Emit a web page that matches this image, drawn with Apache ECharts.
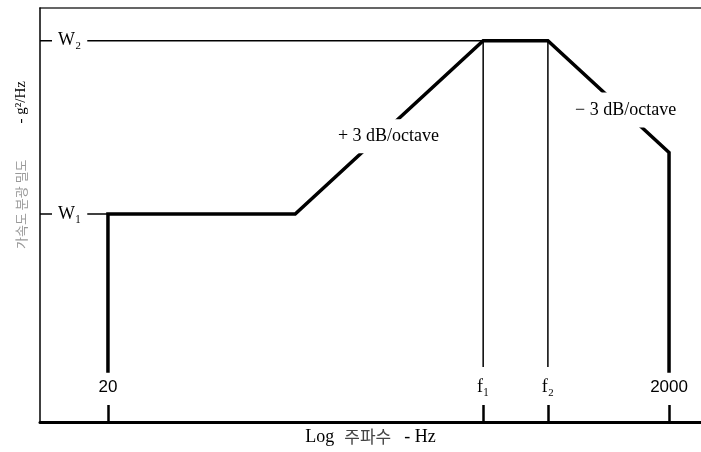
<!DOCTYPE html>
<html><head><meta charset="utf-8">
<script src="https://cdn.jsdelivr.net/npm/echarts@6/dist/echarts.min.js"></script>
<style>html,body{margin:0;padding:0;background:#fff}#c{width:701px;height:452px}</style>
</head><body><div id="c"></div>
<script>
// x: frequency in Hz (log scale); y: acceleration PSD, relative units (log scale)
const freqRange = [11.45, 2600];
const psdRange = [0.156, 6.29];
const profileFreq = [20, 20, 93, 435, 740, 2000, 2000];
const profilePsd  = [0.242, 1, 1, 4.7, 4.7, 1.73, 0.242];
const levelNames = ['W₁', 'W₂'];
const levelValues = [1, 4.7];
const levelEnds = [20, 435];
const cornerFreqs = [435, 740];
const cornerLineBottom = 0.255;
const tickFreqs = [20, 435, 740, 2000];
const tickLabels = ['20', 'f₁', 'f₂', '2000'];
const slopeTexts = ['+ 3 dB/octave', '− 3 dB/octave'];
const slopeFreq = [200, 1400];
const slopePsd = [2.0, 2.53];

const SERIF = 'Liberation Serif, Times New Roman, serif';
const SANS = 'Liberation Sans, Arial, sans-serif';
const KR = 'Noto Sans CJK KR, sans-serif';

function nearestIdx(arr, v) {
  let best = 0, bd = Infinity;
  arr.forEach((a, i) => { const d = Math.abs(Math.log(a) - Math.log(v)); if (d < bd) { bd = d; best = i; } });
  return best;
}

const series = [];
series.push({
  type: 'line', symbol: 'none', silent: true, z: 3,
  data: profileFreq.map((f, i) => [f, profilePsd[i]]),
  lineStyle: { color: '#000', width: 3.5, join: 'miter', cap: 'butt' }
});
levelValues.forEach((w, i) => {
  series.push({
    type: 'line', symbol: 'none', silent: true, z: 2,
    data: [[freqRange[0], w], [levelEnds[i], w]],
    lineStyle: { color: '#000', width: 1.5 }
  });
});
cornerFreqs.forEach((f) => {
  series.push({
    type: 'line', symbol: 'none', silent: true, z: 2,
    data: [[f, cornerLineBottom], [f, levelValues[1]]],
    lineStyle: { color: '#000', width: 1.5 }
  });
});
const pads = [[8, 4, 8, 4], [10, 4, 7, 4]];
series.push({
  type: 'scatter', symbolSize: 0, silent: true, z: 6,
  itemStyle: { opacity: 1 },
  data: slopeTexts.map((t, i) => ({
    value: [slopeFreq[i], slopePsd[i]],
    label: {
      show: true, position: 'inside', formatter: t, opacity: 1,
      fontFamily: SERIF, fontSize: 18, color: '#000',
      backgroundColor: '#fff', padding: pads[i]
    }
  }))
});

const chart = echarts.init(document.getElementById('c'), null, { renderer: 'canvas' });
chart.setOption({
  animation: false,
  backgroundColor: '#fff',
  grid: { left: 40, right: 0, top: 8, bottom: 30 },
  xAxis: [{
    type: 'log', logBase: 10, min: freqRange[0], max: freqRange[1],
    z: 10,
    axisLine: { show: true, lineStyle: { color: '#000', width: 3 } },
    axisTick: { show: true, inside: true, length: 17, customValues: tickFreqs, lineStyle: { color: '#000', width: 2.5 } },
    axisLabel: {
      show: true, inside: true, margin: 26, customValues: tickFreqs,
      formatter: (v) => {
        const i = nearestIdx(tickFreqs, v);
        return (i === 0 || i === 3) ? '{s|' + tickLabels[i] + '}' : '{f|' + tickLabels[i] + '}';
      },
      rich: {
        s: { fontFamily: SANS, fontSize: 17, color: '#000' },
        f: { fontFamily: SERIF, fontSize: 18, color: '#000' }
      }
    },
    splitLine: { show: false }, minorTick: { show: false },
    name: '{s|Log}{g1| }{k|주파수}{g2| }{s|- Hz}',
    nameLocation: 'middle', nameGap: 6,
    nameTextStyle: {
      verticalAlign: 'top',
      rich: {
        s: { fontFamily: SERIF, fontSize: 18, color: '#000' },
        k: { fontFamily: KR, fontSize: 17, color: '#444' },
        g1: { width: 10, fontSize: 10 },
        g2: { width: 13, fontSize: 10 }
      }
    }
  }, {
    type: 'log', logBase: 10, min: freqRange[0], max: freqRange[1],
    position: 'top', z: 1,
    axisLine: { show: true, lineStyle: { color: '#333', width: 1.5 } },
    axisTick: { show: false }, axisLabel: { show: false },
    splitLine: { show: false }, minorTick: { show: false }
  }],
  yAxis: {
    type: 'log', logBase: 10, min: psdRange[0], max: psdRange[1],
    z: 10,
    axisLine: { show: true, lineStyle: { color: '#000', width: 1.5 } },
    axisTick: { show: false },
    splitLine: { show: false }, minorTick: { show: false },
    axisLabel: {
      show: true, inside: true, margin: 12, customValues: levelValues,
      formatter: (v) => levelNames[nearestIdx(levelValues, v)],
      fontFamily: SERIF, fontSize: 18, color: '#000',
      backgroundColor: '#fff', padding: [2, 6, 2, 6]
    }
  },
  graphic: [{
    type: 'text', x: 21, y: 165, rotation: Math.PI / 2, z: 20,
    style: {
      text: '{k|가속도 분광 밀도}{g| }{s|- g²/Hz}',
      align: 'center', verticalAlign: 'middle',
      rich: {
        k: { fontFamily: KR, fontSize: 13, fill: '#999', color: '#999' },
        g: { width: 36, fontSize: 10 },
        s: { fontFamily: SERIF, fontSize: 15, fill: '#000', color: '#000' }
      }
    }
  }],
  series: series
});
</script>
</body></html>
